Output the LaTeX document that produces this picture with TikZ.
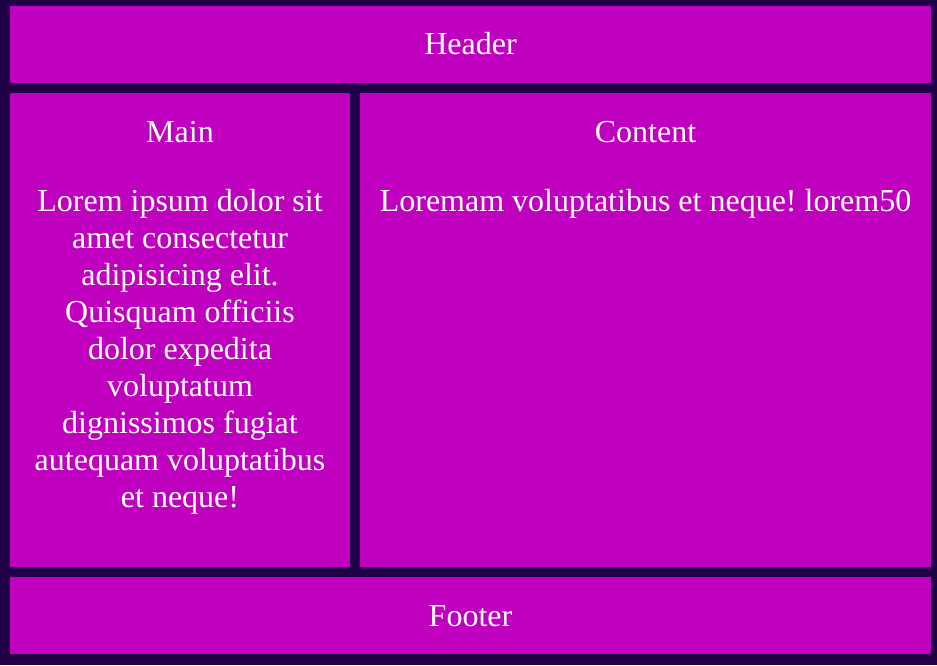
\documentclass[tikz,border=0pt]{standalone}
\usepackage{fontspec}
\setmainfont{Liberation Serif}
\frenchspacing
\definecolor{pagebg}{HTML}{200047}
\definecolor{boxfill}{HTML}{BF00BF}
\begin{document}
\begin{tikzpicture}[x=0.75pt,y=-0.75pt]
		  \tikzset{panel/.style={fill=boxfill,draw=none,inner sep=0pt,anchor=north west,minimum width=#1},
		           panel text/.style={text=white,anchor=base,align=center,inner sep=0pt,font=\fontsize{24pt}{27.75pt}\selectfont}}
		
		  \fill[pagebg] (0,0) rectangle (937,665);
		  \useasboundingbox (0,0) rectangle (937,665);
		  \node [panel=690.75pt,minimum height=57.75pt] (header) at (10,6) {};
		  \node [panel=255pt,minimum height=355.5pt] (main) at (10,93) {};
		  \node [panel=428.25pt,minimum height=355.5pt] (content) at (360,93) {};
		  \node [panel=690.75pt,minimum height=57.75pt] (footer) at (10,577) {};
		  \node [panel text] (header title) at (470.5,54) {Header};
		  \node [panel text] (main title) at (180,142) {Main};
		  \node [panel text] (content title) at (645.5,142) {Content};
		  \node [panel text] (footer title) at (470.5,626) {Footer};
		  % last line sits on the base anchor
		  \node [panel text] (main body) at (180,507) {Lorem ipsum dolor sit\\amet consectetur\\adipisicing elit.\\Quisquam officiis\\dolor expedita\\voluptatum\\dignissimos fugiat\\autequam voluptatibus\\et neque!};
		  \node [panel text] (content body) at (645.5,211) {Loremam voluptatibus et neque! lorem50};
		\end{tikzpicture}
\end{document}
